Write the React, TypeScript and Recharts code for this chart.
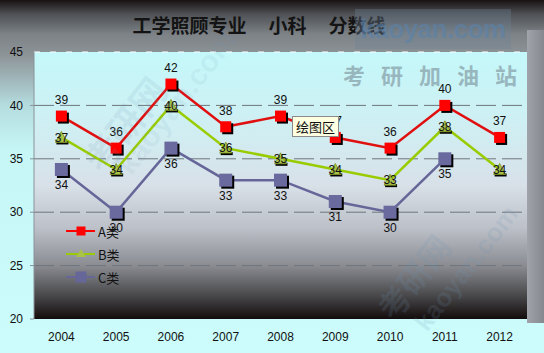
import React from "react";
import { CartesianGrid, LabelList, Legend, Line, LineChart, ReferenceLine, XAxis, YAxis } from "recharts";

const years = ["2004", "2005", "2006", "2007", "2008", "2009", "2010", "2011", "2012"];
const seriesA = [39, 36, 42, 38, 39, 37, 36, 40, 37];
const seriesB = [37, 34, 40, 36, 35, 34, 33, 38, 34];
const seriesC: (number | null)[] = [34, 30, 36, 33, 33, 31, 30, 35, null];
const yTicks = [20, 25, 30, 35, 40, 45];
const gridValues = [25, 30, 35, 40];
const titleParts = ["工学照顾专业", "小科", "分数线"];

const data = years.map((year, i) => ({ x: i + 0.5, year, A: seriesA[i], B: seriesB[i], C: seriesC[i] }));
const labelTicks = years.map((_, i) => i + 0.5);
const edgeTicks = [...years.map((_, i) => i), years.length];

const FONT = "'Liberation Sans', Arial, sans-serif";
const CJK = "'Noto Sans CJK SC', sans-serif";

const squareDot = (size: number, color: string) => (props: any) => {
  const { cx, cy, index } = props;
  if (cx == null || cy == null || isNaN(cy)) return <g key={`s-${index}`} />;
  return (
    <g key={`s-${index}`}>
      <rect x={cx - size / 2 + 2} y={cy - size / 2 + 2} width={size} height={size} fill="#000" />
      <rect x={cx - size / 2} y={cy - size / 2} width={size} height={size} fill={color} />
    </g>
  );
};

const triangleDot = (props: any) => {
  const { cx, cy, index } = props;
  if (cx == null || cy == null || isNaN(cy)) return <g key={`t-${index}`} />;
  return (
    <g key={`t-${index}`}>
      <rect x={cx - 5} y={cy + 4} width={12} height={3} fill="#000" />
      <polygon points={`${cx},${cy - 6} ${cx - 6},${cy + 5} ${cx + 6},${cy + 5}`} fill="#a9c24a" stroke="#7a9020" strokeWidth={0.8} />
    </g>
  );
};

const legendItems = [
  { name: "A类", color: "#ff0000", marker: "square", size: 9 },
  { name: "B类", color: "#99cc00", marker: "triangle", size: 9 },
  { name: "C类", color: "#666699", marker: "square", size: 11 },
];

function LegendBox() {
  return (
    <div style={{ display: "flex", flexDirection: "column", gap: 5 }}>
      {legendItems.map((item) => (
        <div key={item.name} style={{ display: "flex", alignItems: "center", height: 18 }}>
          <svg width={31} height={14}>
            <line x1={0} y1={7} x2={29} y2={7} stroke={item.color} strokeWidth={2} />
            {item.marker === "square" ? (
              <rect x={15 - item.size / 2} y={7 - item.size / 2} width={item.size} height={item.size} fill={item.color} />
            ) : (
              <polygon points="15,2 10,10 20,10" fill="#a9c24a" />
            )}
          </svg>
          <span style={{ fontFamily: CJK, fontSize: 13, color: "#111", marginLeft: 1 }}>{item.name}</span>
        </div>
      ))}
    </div>
  );
}

const mark = (left: number, top: number, text: string, size: number, font: string, alpha: number) => (
  <div
    style={{
      position: "absolute",
      left,
      top,
      transform: "rotate(-52deg)",
      transformOrigin: "left top",
      fontFamily: font,
      fontWeight: 700,
      fontSize: size,
      color: `rgba(110,150,180,${alpha})`,
      pointerEvents: "none",
      whiteSpace: "nowrap",
    }}
  >
    {text}
  </div>
);

export default function App() {
  return (
    <div
      style={{
        position: "absolute",
        left: 0,
        top: 0,
        width: 544,
        height: 353,
        overflow: "hidden",
        background:
          "linear-gradient(180deg, #181212 0px, #4e5054 14px, #7c8286 34px, #8e9599 56px, #b4dcdf 105px, #c6f6f6 150px, #ccfcfc 353px)",
      }}
    >
      <div
        style={{
          position: "absolute",
          left: 527,
          top: 30,
          width: 17,
          height: 293,
          background: "linear-gradient(90deg, #a0a4aa, #84888f)",
        }}
      />
      <div
        style={{
          position: "absolute",
          top: 11,
          left: 0,
          width: 518,
          display: "flex",
          justifyContent: "center",
          gap: 22,
          fontFamily: CJK,
          fontSize: 19,
          fontWeight: 700,
          color: "#141414",
        }}
      >
        {titleParts.map((t) => (
          <span key={t}>{t}</span>
        ))}
      </div>
      <div style={{ position: "absolute", left: 0, top: 0 }}>
        <LineChart width={544} height={353} data={data} margin={{ top: 52, right: 17, bottom: 0, left: 0 }}>
          <defs>
            <linearGradient id="plotBg" x1="0" y1="0" x2="0" y2="1">
              <stop offset="0%" stopColor="#c4f8fa" />
              <stop offset="30%" stopColor="#d0eef2" />
              <stop offset="50%" stopColor="#d8e0e8" />
              <stop offset="66%" stopColor="#bcc0c8" />
              <stop offset="80%" stopColor="#8a8c92" />
              <stop offset="91%" stopColor="#4a4a4c" />
              <stop offset="100%" stopColor="#140c0c" />
            </linearGradient>
          </defs>
          <CartesianGrid
            fill="url(#plotBg)"
            fillOpacity={1}
            vertical={false}
            horizontalValues={gridValues}
            stroke="#6e767c"
            strokeDasharray="20 6"
          />
          <ReferenceLine y={45} stroke="#ffffff" strokeDasharray="6 10" />
          <XAxis
            xAxisId="edge"
            type="number"
            dataKey="x"
            domain={[0, years.length]}
            ticks={edgeTicks}
            tick={false}
            tickSize={4}
            height={0}
            axisLine={{ stroke: "#8a9298" }}
            tickLine={{ stroke: "#8a9298" }}
          />
          <XAxis
            type="number"
            dataKey="x"
            domain={[0, years.length]}
            ticks={labelTicks}
            tickFormatter={(v: number) => years[Math.floor(v)]}
            axisLine={false}
            tickLine={false}
            tickSize={0}
            tickMargin={13}
            height={34}
            tick={{ fill: "#111", fontSize: 12, fontFamily: FONT }}
          />
          <YAxis
            type="number"
            domain={[20, 45]}
            ticks={yTicks}
            width={34}
            tickSize={4}
            tickMargin={7}
            axisLine={{ stroke: "#8a9298" }}
            tickLine={{ stroke: "#8a9298" }}
            tick={{ fill: "#111", fontSize: 12, fontFamily: FONT }}
          />
          <Legend
            layout="horizontal"
            verticalAlign="middle"
            align="center"
            wrapperStyle={{ left: 66, top: 222, width: 70 }}
            content={() => <LegendBox />}
          />
          <Line
            dataKey="C"
            stroke="#666699"
            strokeWidth={2.5}
            dot={squareDot(13, "#6a6a9e")}
            isAnimationActive={false}
          >
            <LabelList dataKey="C" position="bottom" offset={11} fill="#111" fontSize={12} fontFamily={FONT} />
          </Line>
          <Line dataKey="B" stroke="#99cc00" strokeWidth={2.5} dot={triangleDot} isAnimationActive={false}>
            <LabelList dataKey="B" position="center" fill="#111" fontSize={12} fontFamily={FONT} />
          </Line>
          <Line dataKey="A" stroke="#e01010" strokeWidth={2.5} dot={squareDot(11, "#ff0000")} isAnimationActive={false}>
            <LabelList dataKey="A" position="top" offset={12} fill="#111" fontSize={12} fontFamily={FONT} />
          </Line>
        </LineChart>
      </div>
      {/* watermarks */}
      <div
        style={{
          position: "absolute",
          left: 355,
          top: 9,
          width: 156,
          height: 40,
          background: "rgba(110,130,150,0.35)",
          fontFamily: FONT,
          fontWeight: 700,
          fontSize: 26,
          letterSpacing: -0.5,
          lineHeight: "40px",
          color: "rgba(90,130,170,0.6)",
          textAlign: "center",
          pointerEvents: "none",
        }}
      >
        kaoyan.com
      </div>
      <div
        style={{
          position: "absolute",
          left: 343,
          top: 58,
          fontFamily: CJK,
          fontWeight: 700,
          fontSize: 22,
          letterSpacing: 16,
          color: "rgba(120,140,150,0.6)",
          pointerEvents: "none",
        }}
      >
        考研加油站
      </div>
      {mark(70, 150, "考研网", 36, CJK, 0.13)}
      {mark(110, 160, "kaoyan.com", 30, FONT, 0.1)}
      {mark(365, 300, "考研网", 32, CJK, 0.16)}
      {mark(408, 318, "kaoyan.com", 26, FONT, 0.16)}
      <div
        style={{
          position: "absolute",
          left: 292,
          top: 116,
          padding: "1px 3px",
          background: "#ffffe1",
          border: "1px solid #8a8a8a",
          fontFamily: CJK,
          fontSize: 13,
          lineHeight: "17px",
          color: "#111",
        }}
      >
        绘图区
      </div>
    </div>
  );
}
